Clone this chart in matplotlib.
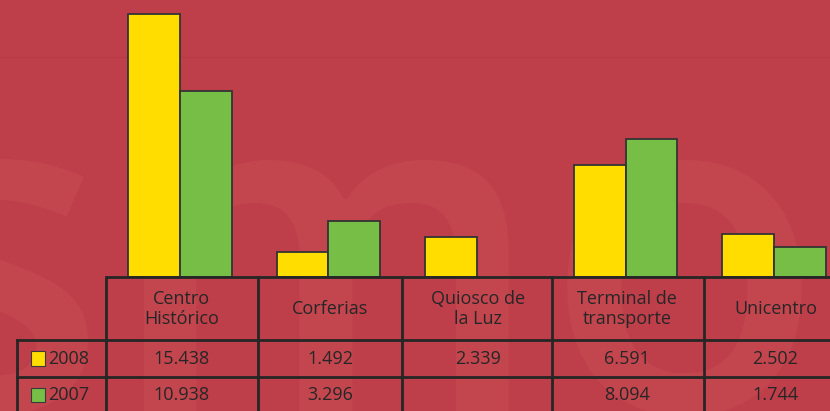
import matplotlib.pyplot as plt
from matplotlib.patches import Rectangle

# data
places = ["Centro\nHistórico", "Corferias", "Quiosco de\nla Luz", "Terminal de\ntransporte", "Unicentro"]
v2008 = [15.438, 1.492, 2.339, 6.591, 2.502]
v2007 = [10.938, 3.296, None, 8.094, 1.744]
lbl2008 = ["15.438", "1.492", "2.339", "6.591", "2.502"]
lbl2007 = ["10.938", "3.296", "", "8.094", "1.744"]
years = ["2008", "2007"]

bg = "#BE3E4A"
yellow = "#FFDD00"
green = "#76BE45"
ink = "#262626"

plt.rcParams["font.family"] = ["Open Sans", "DejaVu Sans"]

fig = plt.figure(figsize=(8.3, 4.11), dpi=100, facecolor=bg)
ax = fig.add_axes([0, 0, 1, 1])
ax.set_facecolor(bg)
ax.set_xlim(-1.212, 4.377)
ax.set_ylim(-7.86, 16.26)
ax.axis("off")

# faint watermark behind everything
ax.text(-2.0, -7.9, "smog", fontsize=330, color="#C3464F", fontweight="semibold",
        ha="left", va="baseline", zorder=0, clip_on=True)
ax.axhline(12.93, color="#B73A45", lw=0.8, zorder=0)

w = 0.347
x = list(range(len(places)))
ax.bar([i - w / 2 for i in x], v2008, width=w, color=yellow,
       edgecolor="#333333", linewidth=1.3, zorder=3)
xs7 = [i + w / 2 for i, v in zip(x, v2007) if v is not None]
ys7 = [v for v in v2007 if v is not None]
ax.bar(xs7, ys7, width=w, color=green, edgecolor="#333333", linewidth=1.3, zorder=3)

# table grid
y_top = 0
y_hdr = -3.70
y_r1 = -5.87
y_r2 = -7.95
x_lab = -1.1
borders = [-0.498, 0.525, 1.495, 2.505, 3.529]
lw = 2.0
ax.plot([borders[0], 4.6], [y_top, y_top], color=ink, lw=lw, zorder=4, solid_capstyle="butt")
ax.plot([x_lab, 4.6], [y_hdr, y_hdr], color=ink, lw=lw, zorder=4)
ax.plot([x_lab, 4.6], [y_r1, y_r1], color=ink, lw=lw, zorder=4)
for b in borders:
    ax.plot([b, b], [y_top, -8.2], color=ink, lw=lw, zorder=4)
ax.plot([x_lab, x_lab], [y_hdr, -8.2], color=ink, lw=lw, zorder=4)

fs = 13
for i, name in enumerate(places):
    ax.text(i + 0.01, (y_top + y_hdr) / 2, name, ha="center", va="center",
            fontsize=fs, color=ink, linespacing=1.15, zorder=5)
    ax.text(i + 0.01, (y_hdr + y_r1) / 2, lbl2008[i], ha="center", va="center",
            fontsize=fs, color=ink, zorder=5)
    ax.text(i + 0.01, (y_r1 + y_r2) / 2, lbl2007[i], ha="center", va="center",
            fontsize=fs, color=ink, zorder=5)

# row labels with colour keys
for yc, col, yr in [((y_hdr + y_r1) / 2, yellow, years[0]), ((y_r1 + y_r2) / 2, green, years[1])]:
    ax.add_patch(Rectangle((-1.0, yc - 0.42), 0.09, 0.84, facecolor=col,
                           edgecolor="#3a3a3a", linewidth=0.8, zorder=5))
    ax.text(-0.89, yc, yr, ha="left", va="center", fontsize=fs, color=ink, zorder=5)

fig.savefig("out.png", dpi=100, facecolor=bg)
